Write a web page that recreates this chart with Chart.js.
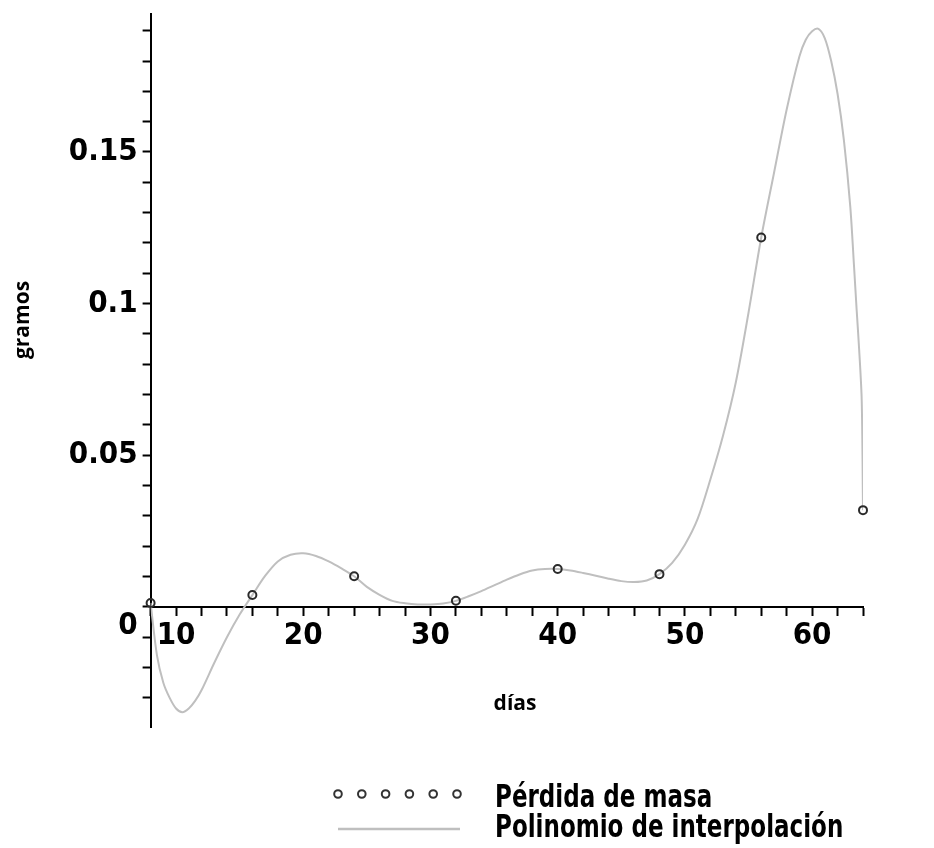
<!DOCTYPE html>
<html>
<head>
<meta charset="utf-8">
<script src="https://cdn.jsdelivr.net/npm/chart.js@4.4.1/dist/chart.umd.min.js"></script>
<style>
  html, body { margin: 0; padding: 0; background: #fff; }
  #wrap { position: relative; width: 934px; height: 848px; }
</style>
</head>
<body>
<div id="wrap"><canvas id="plot"></canvas></div>
<script>
// medidas: pérdida de masa (g) por día
const dias = [8, 16, 24, 32, 40, 48, 56, 64];
const perdida = [0.0013, 0.0039, 0.0101, 0.0020, 0.0125, 0.0108, 0.1218, 0.0319];

// polinomio de interpolación, leído punto a punto
const curvaDias = [8, 8.5, 9, 9.5, 10, 10.5, 11, 11.5, 12, 13, 14, 15, 16, 17, 18, 19, 20,
  21, 22, 23, 24, 25, 26, 27, 28, 29, 30, 31, 32, 33, 34, 35, 36, 37, 38, 39, 40,
  41, 42, 43, 44, 45, 46, 47, 48, 49, 50, 51, 52, 53, 54, 55, 56, 57, 58, 59, 59.5, 60,
  60.5, 61, 61.5, 62, 62.5, 63, 63.3, 63.5, 63.7, 63.9, 64];
const curvaGramos = [0.0013, -0.016, -0.025, -0.030, -0.0335, -0.0347, -0.0335, -0.031, -0.0275,
  -0.0185, -0.0100, -0.0025, 0.0039, 0.0102, 0.0150, 0.0172, 0.0177,
  0.0168, 0.0150, 0.0127, 0.0101, 0.0066, 0.0040, 0.0020, 0.0012, 0.0008, 0.0008, 0.0011, 0.0020,
  0.0035, 0.0052, 0.0071, 0.0090, 0.0107, 0.0120, 0.0125, 0.0125,
  0.0120, 0.0112, 0.0103, 0.0093, 0.0085, 0.0082, 0.0087, 0.0108, 0.0145, 0.0205, 0.0290, 0.0420,
  0.0565, 0.0740, 0.0970, 0.1218, 0.1430, 0.1640, 0.1815, 0.1870, 0.1898,
  0.1906, 0.1875, 0.1800, 0.1692, 0.1538, 0.1320, 0.1120, 0.0980, 0.0847, 0.0680, 0.0319];

const xEtiquetas = [10, 20, 30, 40, 50, 60];
const yEtiquetas = [0, 0.05, 0.1, 0.15];
const series = ["Pérdida de masa", "Polinomio de interpolación"];

const fuenteEje = '"DejaVu Sans Condensed", "Liberation Sans Narrow", "DejaVu Sans", sans-serif';
const fuenteTitulo = '"Open Sans", "Noto Sans", sans-serif';
const grisCurva = "#bfbfbf";

// marcas cada 2 días y cada 0.01 g
function marcas(desde, hasta, paso) {
  const out = [];
  for (let v = desde; v <= hasta + 1e-9; v += paso) {
    out.push({ value: Math.round(v * 1000) / 1000 });
  }
  return out;
}

// títulos de ejes y leyenda
const extras = {
  id: "extras",
  afterDraw(chart) {
    const ctx = chart.ctx;
    ctx.save();
    ctx.fillStyle = "#000";
    ctx.font = "bold 21px " + fuenteTitulo;
    ctx.textAlign = "center";
    ctx.textBaseline = "middle";
    ctx.fillText("días", 515, 704);
    ctx.translate(23, 320);
    ctx.rotate(-Math.PI / 2);
    ctx.fillText("gramos", 0, 0);
    ctx.restore();

    ctx.save();
    ctx.strokeStyle = "#333";
    ctx.lineWidth = 2;
    for (let i = 0; i < 6; i++) {
      ctx.beginPath();
      ctx.arc(338 + i * 23.8, 794, 3.8, 0, Math.PI * 2);
      ctx.stroke();
    }
    ctx.strokeStyle = grisCurva;
    ctx.lineWidth = 2.5;
    ctx.beginPath();
    ctx.moveTo(338, 829);
    ctx.lineTo(460, 829);
    ctx.stroke();
    ctx.fillStyle = "#000";
    ctx.font = "bold 32px " + fuenteEje;
    ctx.textAlign = "left";
    ctx.textBaseline = "alphabetic";
    ctx.translate(495, 0);
    ctx.scale(0.8, 1);
    ctx.fillText(chart.data.datasets[0].label, 0, 807);
    ctx.fillText(chart.data.datasets[1].label, 0, 837);
    ctx.restore();
  }
};

new Chart(document.getElementById("plot"), {
  type: "line",
  data: {
    datasets: [
      {
        label: series[0],
        data: dias.map((d, i) => ({ x: d, y: perdida[i] })),
        showLine: false,
        pointStyle: "circle",
        pointRadius: 4,
        pointBorderWidth: 2,
        pointBorderColor: "#2a2a2a",
        pointBackgroundColor: "rgba(0,0,0,0)",
        clip: false
      },
      {
        label: series[1],
        data: curvaDias.map((d, i) => ({ x: d, y: curvaGramos[i] })),
        borderColor: grisCurva,
        borderWidth: 2,
        pointRadius: 0,
        tension: 0.3,
        fill: false
      }
    ]
  },
  options: {
    responsive: true,
    maintainAspectRatio: false,
    animation: false,
    layout: { padding: { top: 14, right: 71, bottom: 121, left: 0 } },
    plugins: {
      legend: { display: false },
      tooltip: { enabled: false }
    },
    scales: {
      x: {
        type: "linear",
        position: { y: 0 },
        min: 8,
        max: 64,
        afterBuildTicks: (s) => { s.ticks = marcas(8, 64, 2); },
        afterFit: (s) => { s.height = 0; s.paddingLeft = 0; s.paddingRight = 0; },
        grid: { drawOnChartArea: false, color: "#000", tickLength: 8, tickWidth: 2 },
        border: { color: "#000", width: 2 },
        ticks: {
          autoSkip: false,
          maxRotation: 0,
          padding: 2,
          color: "#000",
          font: { family: fuenteEje, size: 31, weight: "bold" },
          callback: (v) => (xEtiquetas.includes(v) ? String(v) : "")
        }
      },
      y: {
        type: "linear",
        position: "left",
        min: -0.0396,
        max: 0.1955,
        afterBuildTicks: (s) => { s.ticks = marcas(-0.03, 0.19, 0.01); },
        afterFit: (s) => { s.width = 150.6; s.paddingTop = 0; s.paddingBottom = 0; },
        grid: { drawOnChartArea: false, color: "#000", tickLength: 8, tickWidth: 2 },
        border: { color: "#000", width: 2 },
        ticks: {
          autoSkip: false,
          padding: 5,
          color: "#000",
          font: { family: fuenteEje, size: 31, weight: "bold" },
          callback: (v) => {
            if (!yEtiquetas.includes(v)) return "";
            return v === 0 ? ["", "0"] : String(v);
          }
        }
      }
    }
  },
  plugins: [extras]
});
</script>
</body>
</html>
